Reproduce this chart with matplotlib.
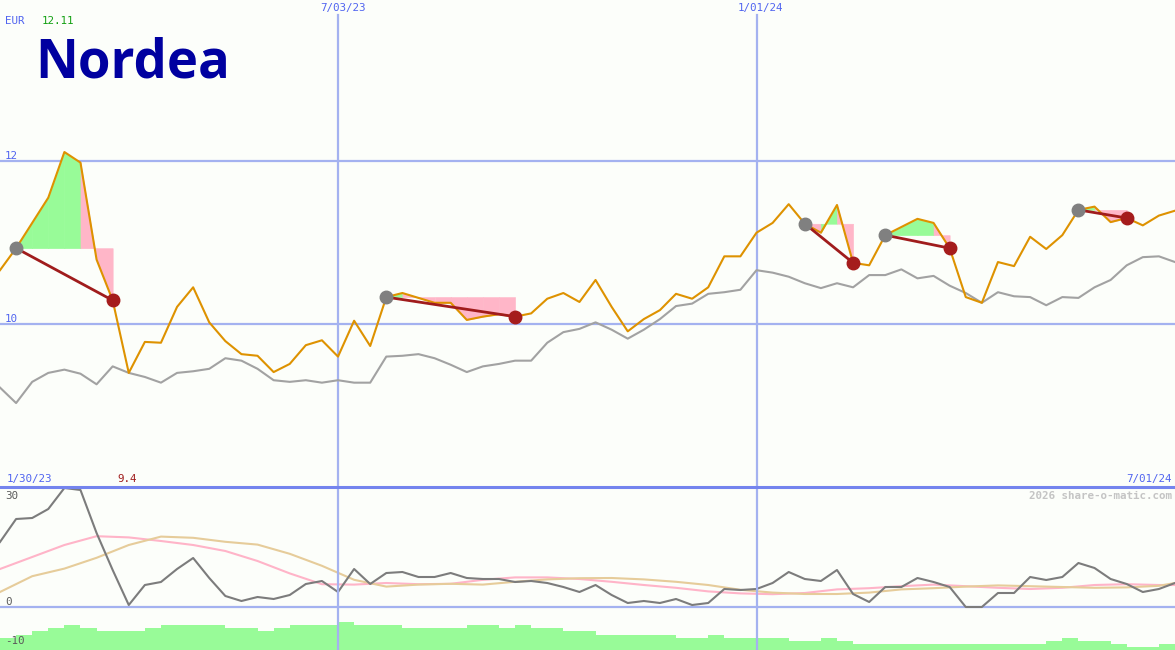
import matplotlib
matplotlib.use('Agg')
from matplotlib import pyplot as plt
import numpy as np
import pandas as pd

# weekly closes, Nordea (EUR) and benchmark
weeks = pd.date_range('2023-02-06', periods=74, freq='W-MON')
price = [10.66, 10.93, 11.24, 11.55, 12.11, 11.98, 10.79, 10.29, 9.40, 9.78,
         9.77, 10.21, 10.45, 10.02, 9.79, 9.63, 9.61, 9.41, 9.51, 9.74,
         9.80, 9.60, 10.04, 9.73, 10.33, 10.38, 10.32, 10.26, 10.26, 10.05,
         10.09, 10.12, 10.09, 10.13, 10.31, 10.38, 10.27, 10.54, 10.21, 9.91,
         10.06, 10.17, 10.37, 10.31, 10.45, 10.83, 10.83, 11.12, 11.24, 11.47,
         11.23, 11.12, 11.46, 10.75, 10.72, 11.09, 11.19, 11.29, 11.24, 10.93,
         10.33, 10.26, 10.76, 10.71, 11.07, 10.92, 11.09, 11.40, 11.44, 11.25,
         11.30, 11.21, 11.33, 11.39]
bench = [9.22, 9.03, 9.29, 9.40, 9.44, 9.39, 9.26, 9.48, 9.40, 9.35,
         9.28, 9.40, 9.42, 9.45, 9.58, 9.55, 9.45, 9.31, 9.29, 9.31,
         9.28, 9.31, 9.28, 9.28, 9.60, 9.61, 9.63, 9.58, 9.50, 9.41,
         9.48, 9.51, 9.55, 9.55, 9.77, 9.90, 9.94, 10.02, 9.93, 9.82,
         9.93, 10.06, 10.22, 10.25, 10.37, 10.39, 10.42, 10.66, 10.63, 10.58,
         10.50, 10.44, 10.50, 10.45, 10.60, 10.60, 10.67, 10.56, 10.59, 10.47,
         10.38, 10.26, 10.39, 10.34, 10.33, 10.23, 10.33, 10.32, 10.45, 10.54,
         10.72, 10.82, 10.83, 10.76]
# (buy week, sell week)
trades = [(1, 7), (24, 32), (50, 53), (55, 59), (67, 70)]

# lower panel indicator
osc = [16.25, 22, 22.25, 24.5, 29.75, 29.25, 18.5, 9.25, 0.5, 5.5,
       6.25, 9.5, 12.25, 7.25, 2.75, 1.5, 2.5, 2, 3, 5.75,
       6.5, 3.75, 9.5, 5.75, 8.5, 8.75, 7.5, 7.5, 8.5, 7.25,
       7, 7, 6.25, 6.5, 6, 5, 3.75, 5.5, 3, 1,
       1.5, 1, 2, 0.5, 1, 4.5, 4.25, 4.5, 6, 8.75,
       7, 6.5, 9.25, 3.25, 1.25, 5, 5, 7.25, 6.25, 5,
       0, 0, 3.5, 3.5, 7.5, 6.75, 7.5, 11, 9.75, 7,
       5.75, 3.75, 4.5, 6]
smooth_idx = list(range(0, 74, 2)) + [73]
smooth_fast = [9.5, 12.5, 15.5, 17.7, 17.4, 16.5, 15.5, 14, 11.5, 8.4,
               5.7, 5.6, 6, 5.7, 5.8, 6.8, 7.4, 7.4, 7, 6.3,
               5.5, 4.8, 3.9, 3.4, 3.2, 3.5, 4.4, 4.7, 5.2, 5.6,
               5.2, 4.8, 4.5, 4.8, 5.5, 5.7, 5.5, 5.5]
smooth_slow = [3.75, 7.7, 9.6, 12.3, 15.5, 17.6, 17.3, 16.3, 15.6, 13.3,
               10.3, 6.8, 5.1, 5.6, 5.8, 5.6, 6.3, 6.9, 7.2, 7.25,
               6.9, 6.3, 5.5, 4.3, 3.6, 3.25, 3.25, 3.6, 4.4, 4.7,
               5.1, 5.4, 5.2, 5.0, 4.8, 4.9, 5.3, 6.0]
volume = [3, 3.75, 4.75, 5.5, 6.25, 5.5, 4.75, 4.75, 4.75, 5.5,
          6.25, 6.25, 6.25, 6.25, 5.5, 5.5, 4.75, 5.5, 6.25, 6.25,
          6.25, 7, 6.25, 6.25, 6.25, 5.5, 5.5, 5.5, 5.5, 6.25,
          6.25, 5.5, 6.25, 5.5, 5.5, 4.75, 4.75, 3.75, 3.75, 3.75,
          3.75, 3.75, 3, 3, 3.75, 3, 3, 3, 3, 2.25,
          2.25, 3, 2.25, 1.5, 1.5, 1.5, 1.5, 1.5, 1.5, 1.5,
          1.5, 1.5, 1.5, 1.5, 1.5, 2.25, 3, 2.25, 2.25, 1.5,
          0.75, 0.75, 1.5, 1.5]

W, H = 1175, 650
bg = '#fcfefa'
grid = '#a4b2f0'
fig = plt.figure(figsize=(W / 100, H / 100), dpi=100, facecolor=bg)
ax1 = fig.add_axes([0, 163 / H, 1, 487 / H], facecolor=bg)
ax2 = fig.add_axes([0, 0, 1, 163 / H], facecolor=bg)
for ax in (ax1, ax2):
    ax.set_axis_off()
    ax.set_xlim(weeks[0], weeks[-1])

ax1.set_ylim(8.0, 13.975)
ax2.set_ylim(-10.75, 30)

# grid
for lvl in (10, 12):
    ax1.axhline(lvl, color=grid, lw=1.6, zorder=1)
vlines = [pd.Timestamp('2023-07-03'), pd.Timestamp('2024-01-01')]
for d in vlines:
    ax1.axvline(d, ymax=1 - 15 / 487, color=grid, lw=1.6, zorder=1)
    ax2.axvline(d, color=grid, lw=1.6, zorder=5)
ax2.axhline(0, color=grid, lw=1.6, zorder=1)
ax2.axhline(30, color='#7484ee', lw=2.2, zorder=6, clip_on=False)

# trade fills: green while the week closes above the entry, pink below
price_a = np.array(price)
for b, s in trades:
    lvl = price_a[b]
    for j in range(b, s):
        col = '#98fb98' if price_a[j + 1] >= lvl else '#ffb6c8'
        ax1.fill_between(weeks[j:j + 2], price_a[j:j + 2], lvl, facecolor=col,
                         edgecolor=col, lw=0.4, antialiased=False, zorder=2)

ax1.plot(weeks, bench, color='#a2a2a2', lw=1.5, zorder=3)
ax1.plot(weeks, price, color='#de9200', lw=1.5, zorder=4)

for b, s in trades:
    ax1.plot([weeks[b], weeks[s]], [price[b], price[s]], color='#a01c1c', lw=2, zorder=5)
    ax1.plot(weeks[b], price[b], 'o', ms=9, color='#808080', zorder=6)
    ax1.plot(weeks[s], price[s], 'o', ms=9, color='#a51c1c', zorder=6)

# lower panel
ax2.bar(weeks, volume, width=7, align='edge', bottom=-10.75, color='#98fb98', lw=0, zorder=2)
ax2.plot(weeks[smooth_idx], smooth_fast, color='#ffb4c8', lw=1.5, zorder=3)
ax2.plot(weeks[smooth_idx], smooth_slow, color='#e6cc9a', lw=1.5, zorder=3)
ax2.plot(weeks, osc, color='#7c7c7c', lw=1.5, zorder=4)

# text
mono = 'DejaVu Sans Mono'
def t(x, y, s, c, ha='left', **kw):
    fig.text(x / W, 1 - y / H, s, color=c, ha=ha, va='center', family=mono, fontsize=7.8, **kw)

t(5, 21, 'EUR', '#5064f0')
t(42, 21, '12.11', '#12a012')
t(343, 8, '7/03/23', '#5064f0', ha='center')
t(760, 8, '1/01/24', '#5064f0', ha='center')
t(5, 156, '12', '#5064f0')
t(5, 319, '10', '#5064f0')
t(7, 479, '1/30/23', '#5064f0')
t(117, 479, '9.4', '#a01c1c')
t(1172, 479, '7/01/24', '#5064f0', ha='right')
t(1172, 496, '2026 share-o-matic.com', '#c4c4c4', ha='right', fontweight='bold')
t(5, 496, '30', '#5a5a5a')
t(5, 602, '0', '#5a5a5a')
t(5, 641, '-10', '#5a5a5a')

fig.text(35 / W, 1 - 78 / H, 'Nordea', color='#0000a0', family='Open Sans',
         fontweight='bold', fontsize=38, ha='left', va='baseline')

fig.savefig('out.png', dpi=100, facecolor=bg)
